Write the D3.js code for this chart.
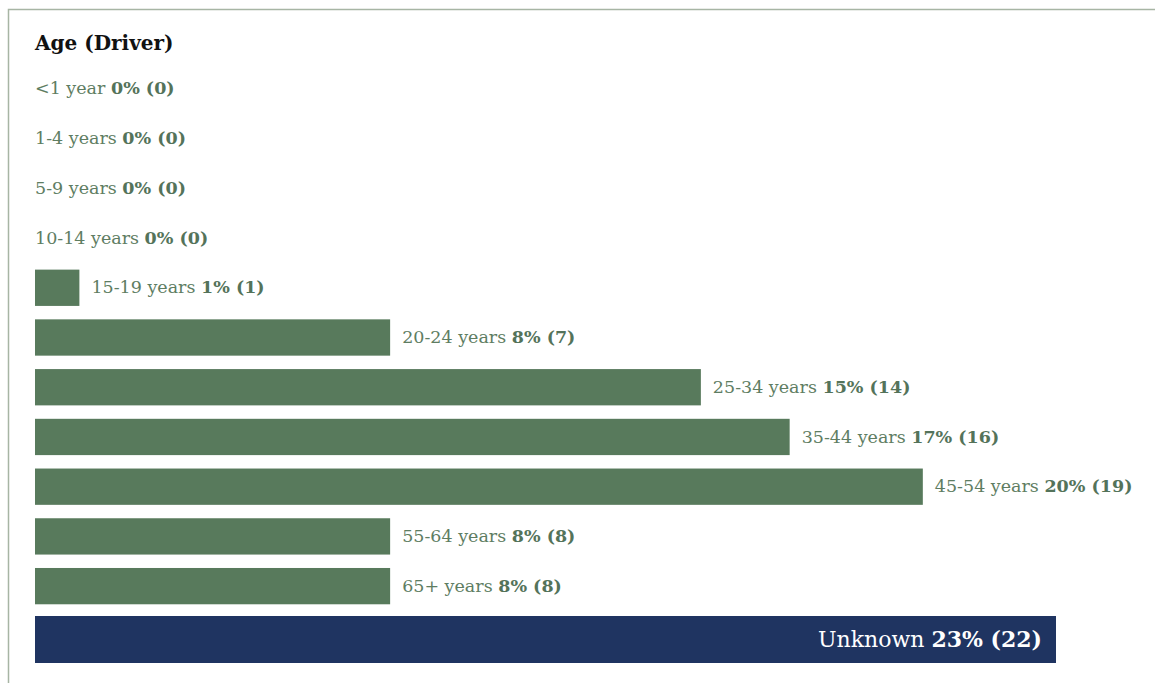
<!DOCTYPE html>
<html>
<head>
<meta charset="utf-8">
<script src="https://cdn.jsdelivr.net/npm/d3@7"></script>
<style>
  body { margin: 0; background: #fff; }
  svg text { font-family: "DejaVu Serif", serif; }
</style>
</head>
<body>
<script>
// chart data
var ages = ["<1 year", "1-4 years", "5-9 years", "10-14 years", "15-19 years", "20-24 years",
            "25-34 years", "35-44 years", "45-54 years", "55-64 years", "65+ years", "Unknown"];
var percents = [0, 0, 0, 0, 1, 8, 15, 17, 20, 8, 8, 23];
var counts = [0, 0, 0, 0, 1, 7, 14, 16, 19, 8, 8, 22];

var rows = ages.map(function(a, i) {
	return { age: a, pct: percents[i], n: counts[i], unknown: a === "Unknown" };
});

var w = 1155;
var h = 683;
var left = 35;

var svg = d3.select("body")
			.append("svg")
			.attr("width", w)
			.attr("height", h);

// frame (top + left edge)
svg.append("path")
	.attr("d", "M8.5,683 V9.5 H1155")
	.attr("fill", "none")
	.attr("stroke", "#a7b5a4")
	.attr("stroke-width", 1.5);

svg.append("text")
	.attr("x", left)
	.attr("y", 50)
	.attr("font-size", 20)
	.attr("font-weight", "bold")
	.attr("fill", "#111")
	.text("Age (Driver)");

var x = d3.scaleLinear()
	.domain([0, d3.max(percents)])
	.range([0, 1021]);

var y = d3.scaleBand()
	.domain(ages.slice(0, 11))
	.range([64, 611])
	.paddingInner(0.27)
	.paddingOuter(0.135);

function rowY(d) { return d.unknown ? 616 : y(d.age); }
function rowH(d) { return d.unknown ? 47 : y.bandwidth(); }

svg.selectAll("rect.bar")
	.data(rows)
	.enter()
	.append("rect")
	.attr("class", "bar")
	.attr("x", left)
	.attr("y", rowY)
	.attr("width", function(d) { return x(d.pct); })
	.attr("height", rowH)
	.attr("fill", function(d) { return d.unknown ? "#1f3461" : "#587a5c"; });

var labels = svg.selectAll("text.lbl")
	.data(rows)
	.enter()
	.append("text")
	.attr("class", "lbl")
	.attr("x", function(d) {
		if (d.unknown) return left + x(d.pct) - 14;
		return left + x(d.pct) + (d.pct > 0 ? 12 : 0);
	})
	.attr("y", function(d) { return rowY(d) + rowH(d) / 2; })
	.attr("dy", "0.32em")
	.attr("text-anchor", function(d) { return d.unknown ? "end" : "start"; })
	.attr("font-size", function(d) { return d.unknown ? 22 : 17.5; })
	.attr("fill", function(d) { return d.unknown ? "#fff" : "#5e7d62"; });

labels.append("tspan").text(function(d) { return d.age + " "; });
labels.append("tspan")
	.attr("font-weight", "bold")
	.attr("fill", function(d) { return d.unknown ? "#fff" : "#54735a"; })
	.text(function(d) { return d.pct + "% (" + d.n + ")"; });
</script>
</body>
</html>
